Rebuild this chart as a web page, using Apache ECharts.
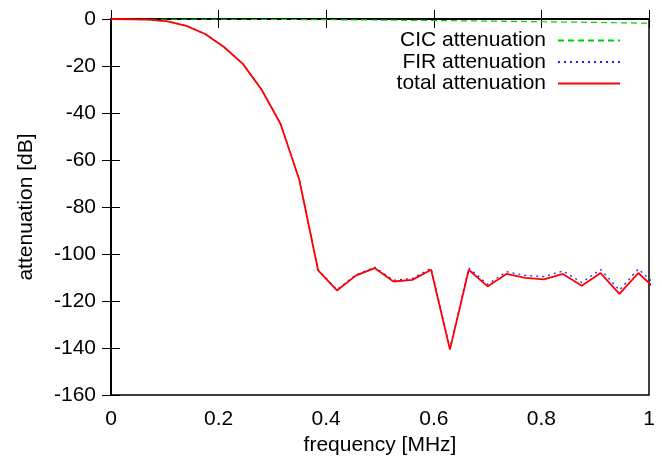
<!DOCTYPE html>
<html>
<head>
<meta charset="utf-8">
<script src="https://cdn.jsdelivr.net/npm/echarts@6/dist/echarts.min.js"></script>
<style>html,body{margin:0;padding:0;background:#fff}#c{width:662px;height:464px}</style>
</head>
<body>
<div id="c"></div>
<script>
var freqs = [0,0.035,0.07,0.105,0.14,0.175,0.21,0.245,0.28,0.315,0.35,0.385,0.42,0.455,0.49,0.525,0.56,0.595,0.63,0.665,0.70,0.735,0.77,0.805,0.84,0.875,0.91,0.945,0.98,1.015];
var cicAtt = [0,0,-0.01,-0.02,-0.04,-0.06,-0.08,-0.11,-0.14,-0.18,-0.22,-0.27,-0.32,-0.37,-0.43,-0.5,-0.56,-0.64,-0.71,-0.8,-0.88,-0.97,-1.07,-1.17,-1.27,-1.38,-1.49,-1.61,-1.73,-1.85];
var firAtt = [0,-0.1,-0.29,-0.98,-2.86,-6.34,-11.82,-18.99,-29.96,-44.42,-68.18,-106.73,-115.18,-108.83,-105.57,-111.2,-110.44,-106.06,-139.99,-105.9,-112.92,-107.53,-109.13,-109.63,-107.23,-112.12,-106.61,-115.39,-106.37,-113.65];
var totalAtt = [0,-0.1,-0.3,-1.0,-2.9,-6.4,-11.9,-19.1,-30.1,-44.6,-68.4,-107.0,-115.5,-109.2,-106.0,-111.7,-111.0,-106.7,-140.7,-106.7,-113.8,-108.5,-110.2,-110.8,-108.5,-113.5,-108.1,-117.0,-108.1,-115.5];
var seriesNames = ['CIC attenuation','FIR attenuation','total attenuation'];
var xTicks = {min:0, max:1, interval:0.2};
var yTicks = {min:-160, max:0, interval:20};

function pairs(ys){ return freqs.map(function(f,i){ return [f, ys[i]]; }); }

var FONT = 'Liberation Sans';
var FS = 21;
var chart = echarts.init(document.getElementById('c'), null, {renderer:'canvas'});
var tickStyle = {show:true, inside:true, length:9, lineStyle:{color:'#000', width:1}};
chart.setOption({
  backgroundColor:'#fff',
  animation:false,
  textStyle:{fontFamily:FONT},
  grid:{left:111, right:13, top:19, bottom:69, show:true, borderColor:'#000', borderWidth:1.5, backgroundColor:'transparent'},
  legend:{
    orient:'vertical', right:41, top:30, align:'right', padding:0,
    itemWidth:62, itemHeight:10, itemGap:0.5,
    itemStyle:{opacity:0},
    textStyle:{fontFamily:FONT, fontSize:FS, color:'#000', lineHeight:21, padding:[0,7,0,0]},
    data:seriesNames
  },
  xAxis:[
    {type:'value', position:'bottom', min:xTicks.min, max:xTicks.max, interval:xTicks.interval,
     name:'frequency [MHz]', nameLocation:'middle', nameGap:37,
     nameTextStyle:{fontFamily:FONT, fontSize:FS, color:'#000'},
     axisLine:{show:true, lineStyle:{color:'#000', width:1.5}},
     axisTick:tickStyle, splitLine:{show:false},
     axisLabel:{fontFamily:FONT, fontSize:FS, color:'#000', margin:14}},
    {type:'value', position:'top', min:xTicks.min, max:xTicks.max, interval:xTicks.interval,
     axisLine:{show:true, lineStyle:{color:'#000', width:1.5}},
     axisTick:tickStyle, splitLine:{show:false}, axisLabel:{show:false}}
  ],
  yAxis:[
    {type:'value', position:'left', min:yTicks.min, max:yTicks.max, interval:yTicks.interval,
     name:'attenuation [dB]', nameLocation:'middle', nameGap:74,
     nameTextStyle:{fontFamily:FONT, fontSize:FS, color:'#000'},
     axisLine:{show:true, lineStyle:{color:'#000', width:1.5}},
     axisTick:tickStyle, splitLine:{show:false},
     axisLabel:{fontFamily:FONT, fontSize:FS, color:'#000', margin:15}},
    {type:'value', position:'right', min:yTicks.min, max:yTicks.max, interval:yTicks.interval,
     axisLine:{show:true, lineStyle:{color:'#000', width:1.5}},
     axisTick:tickStyle, splitLine:{show:false}, axisLabel:{show:false}}
  ],
  series:[
    {name:seriesNames[0], type:'line', data:pairs(cicAtt), symbol:'none', clip:true,
     lineStyle:{color:'#00d000', width:1.2, type:[6,4]}, itemStyle:{color:'#00d000'}, z:3},
    {name:seriesNames[1], type:'line', data:pairs(firAtt), symbol:'none', clip:true,
     lineStyle:{color:'#2020ff', width:1.3, type:[2,4]}, itemStyle:{color:'#2020ff'}, z:4},
    {name:seriesNames[2], type:'line', data:pairs(totalAtt), symbol:'none', clip:true,
     lineStyle:{color:'#ff0000', width:1.8}, itemStyle:{color:'#ff0000'}, z:5}
  ]
});
</script>
</body>
</html>
